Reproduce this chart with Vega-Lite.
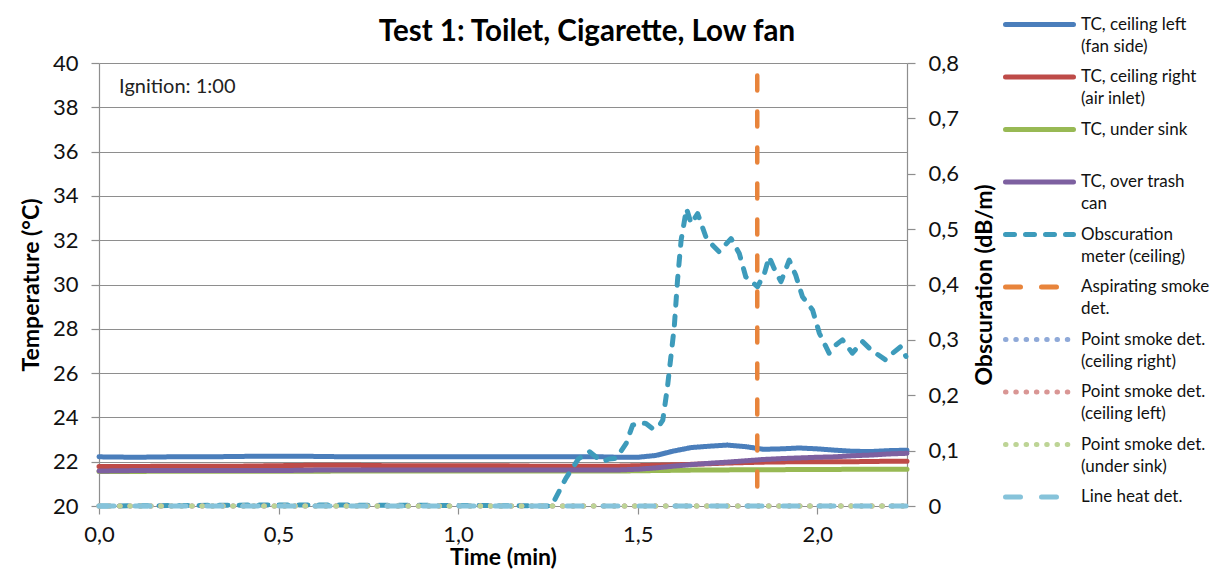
{
  "$schema": "https://vega.github.io/schema/vega-lite/v6.json",
  "width": 808,
  "height": 443,
  "autosize": {"type": "none"},
  "padding": {"left": 99, "top": 63, "right": 309, "bottom": 68},
  "background": "white",
  "title": {"text": "Test 1: Toilet, Cigarette, Low fan", "anchor": "middle", "frame": "group", "dx": 84, "offset": -42, "fontSize": 29.5, "font": "Lato", "fontWeight": "bold", "color": "#000000"},
  "datasets": {
    "temps": [
      {"time": 0.0, "TC, ceiling left (fan side)": 22.22, "TC, ceiling right (air inlet)": 21.78, "TC, under sink": 21.56, "TC, over trash can": 21.58},
      {"time": 0.1, "TC, ceiling left (fan side)": 22.2, "TC, ceiling right (air inlet)": 21.78, "TC, under sink": 21.56, "TC, over trash can": 21.6},
      {"time": 0.2, "TC, ceiling left (fan side)": 22.22, "TC, ceiling right (air inlet)": 21.8, "TC, under sink": 21.57, "TC, over trash can": 21.6},
      {"time": 0.3, "TC, ceiling left (fan side)": 22.22, "TC, ceiling right (air inlet)": 21.8, "TC, under sink": 21.57, "TC, over trash can": 21.6},
      {"time": 0.4, "TC, ceiling left (fan side)": 22.24, "TC, ceiling right (air inlet)": 21.8, "TC, under sink": 21.57, "TC, over trash can": 21.6},
      {"time": 0.5, "TC, ceiling left (fan side)": 22.25, "TC, ceiling right (air inlet)": 21.82, "TC, under sink": 21.57, "TC, over trash can": 21.6},
      {"time": 0.6, "TC, ceiling left (fan side)": 22.24, "TC, ceiling right (air inlet)": 21.84, "TC, under sink": 21.57, "TC, over trash can": 21.62},
      {"time": 0.7, "TC, ceiling left (fan side)": 22.22, "TC, ceiling right (air inlet)": 21.84, "TC, under sink": 21.58, "TC, over trash can": 21.62},
      {"time": 0.8, "TC, ceiling left (fan side)": 22.22, "TC, ceiling right (air inlet)": 21.82, "TC, under sink": 21.58, "TC, over trash can": 21.62},
      {"time": 0.9, "TC, ceiling left (fan side)": 22.22, "TC, ceiling right (air inlet)": 21.82, "TC, under sink": 21.58, "TC, over trash can": 21.62},
      {"time": 1.0, "TC, ceiling left (fan side)": 22.22, "TC, ceiling right (air inlet)": 21.82, "TC, under sink": 21.58, "TC, over trash can": 21.62},
      {"time": 1.1, "TC, ceiling left (fan side)": 22.22, "TC, ceiling right (air inlet)": 21.82, "TC, under sink": 21.58, "TC, over trash can": 21.62},
      {"time": 1.2, "TC, ceiling left (fan side)": 22.22, "TC, ceiling right (air inlet)": 21.8, "TC, under sink": 21.58, "TC, over trash can": 21.62},
      {"time": 1.3, "TC, ceiling left (fan side)": 22.22, "TC, ceiling right (air inlet)": 21.8, "TC, under sink": 21.58, "TC, over trash can": 21.62},
      {"time": 1.4, "TC, ceiling left (fan side)": 22.22, "TC, ceiling right (air inlet)": 21.8, "TC, under sink": 21.58, "TC, over trash can": 21.62},
      {"time": 1.45, "TC, ceiling left (fan side)": 22.2, "TC, ceiling right (air inlet)": 21.8, "TC, under sink": 21.58, "TC, over trash can": 21.63},
      {"time": 1.5, "TC, ceiling left (fan side)": 22.2, "TC, ceiling right (air inlet)": 21.82, "TC, under sink": 21.59, "TC, over trash can": 21.66},
      {"time": 1.55, "TC, ceiling left (fan side)": 22.28, "TC, ceiling right (air inlet)": 21.84, "TC, under sink": 21.6, "TC, over trash can": 21.72},
      {"time": 1.6, "TC, ceiling left (fan side)": 22.48, "TC, ceiling right (air inlet)": 21.86, "TC, under sink": 21.61, "TC, over trash can": 21.8},
      {"time": 1.65, "TC, ceiling left (fan side)": 22.64, "TC, ceiling right (air inlet)": 21.88, "TC, under sink": 21.62, "TC, over trash can": 21.87},
      {"time": 1.7, "TC, ceiling left (fan side)": 22.7, "TC, ceiling right (air inlet)": 21.91, "TC, under sink": 21.63, "TC, over trash can": 21.93},
      {"time": 1.75, "TC, ceiling left (fan side)": 22.75, "TC, ceiling right (air inlet)": 21.94, "TC, under sink": 21.63, "TC, over trash can": 21.98},
      {"time": 1.8, "TC, ceiling left (fan side)": 22.68, "TC, ceiling right (air inlet)": 21.96, "TC, under sink": 21.64, "TC, over trash can": 22.04},
      {"time": 1.85, "TC, ceiling left (fan side)": 22.56, "TC, ceiling right (air inlet)": 21.98, "TC, under sink": 21.64, "TC, over trash can": 22.1},
      {"time": 1.9, "TC, ceiling left (fan side)": 22.58, "TC, ceiling right (air inlet)": 21.99, "TC, under sink": 21.64, "TC, over trash can": 22.14},
      {"time": 1.95, "TC, ceiling left (fan side)": 22.62, "TC, ceiling right (air inlet)": 22.0, "TC, under sink": 21.65, "TC, over trash can": 22.17},
      {"time": 2.0, "TC, ceiling left (fan side)": 22.58, "TC, ceiling right (air inlet)": 22.0, "TC, under sink": 21.65, "TC, over trash can": 22.2},
      {"time": 2.05, "TC, ceiling left (fan side)": 22.52, "TC, ceiling right (air inlet)": 22.0, "TC, under sink": 21.65, "TC, over trash can": 22.22},
      {"time": 2.1, "TC, ceiling left (fan side)": 22.47, "TC, ceiling right (air inlet)": 22.0, "TC, under sink": 21.66, "TC, over trash can": 22.27},
      {"time": 2.15, "TC, ceiling left (fan side)": 22.46, "TC, ceiling right (air inlet)": 22.01, "TC, under sink": 21.66, "TC, over trash can": 22.3},
      {"time": 2.2, "TC, ceiling left (fan side)": 22.5, "TC, ceiling right (air inlet)": 22.02, "TC, under sink": 21.66, "TC, over trash can": 22.35},
      {"time": 2.25, "TC, ceiling left (fan side)": 22.52, "TC, ceiling right (air inlet)": 22.02, "TC, under sink": 21.66, "TC, over trash can": 22.38}
    ],
    "obs": [
      {"series": "Obscuration meter (ceiling)", "time": 0.0, "obs": 0.0},
      {"series": "Obscuration meter (ceiling)", "time": 0.5, "obs": 0.002},
      {"series": "Obscuration meter (ceiling)", "time": 1.0, "obs": 0.001},
      {"series": "Obscuration meter (ceiling)", "time": 1.26, "obs": 0.0},
      {"series": "Obscuration meter (ceiling)", "time": 1.3, "obs": 0.05},
      {"series": "Obscuration meter (ceiling)", "time": 1.335, "obs": 0.085},
      {"series": "Obscuration meter (ceiling)", "time": 1.366, "obs": 0.098},
      {"series": "Obscuration meter (ceiling)", "time": 1.385, "obs": 0.088},
      {"series": "Obscuration meter (ceiling)", "time": 1.403, "obs": 0.08},
      {"series": "Obscuration meter (ceiling)", "time": 1.42, "obs": 0.085},
      {"series": "Obscuration meter (ceiling)", "time": 1.44, "obs": 0.086},
      {"series": "Obscuration meter (ceiling)", "time": 1.468, "obs": 0.113},
      {"series": "Obscuration meter (ceiling)", "time": 1.486, "obs": 0.146},
      {"series": "Obscuration meter (ceiling)", "time": 1.505, "obs": 0.15},
      {"series": "Obscuration meter (ceiling)", "time": 1.523, "obs": 0.149},
      {"series": "Obscuration meter (ceiling)", "time": 1.541, "obs": 0.14},
      {"series": "Obscuration meter (ceiling)", "time": 1.557, "obs": 0.142},
      {"series": "Obscuration meter (ceiling)", "time": 1.57, "obs": 0.155},
      {"series": "Obscuration meter (ceiling)", "time": 1.583, "obs": 0.215},
      {"series": "Obscuration meter (ceiling)", "time": 1.602, "obs": 0.324},
      {"series": "Obscuration meter (ceiling)", "time": 1.611, "obs": 0.408},
      {"series": "Obscuration meter (ceiling)", "time": 1.621, "obs": 0.48},
      {"series": "Obscuration meter (ceiling)", "time": 1.636, "obs": 0.537},
      {"series": "Obscuration meter (ceiling)", "time": 1.649, "obs": 0.51},
      {"series": "Obscuration meter (ceiling)", "time": 1.667, "obs": 0.528},
      {"series": "Obscuration meter (ceiling)", "time": 1.69, "obs": 0.486},
      {"series": "Obscuration meter (ceiling)", "time": 1.71, "obs": 0.47},
      {"series": "Obscuration meter (ceiling)", "time": 1.727, "obs": 0.459},
      {"series": "Obscuration meter (ceiling)", "time": 1.76, "obs": 0.483},
      {"series": "Obscuration meter (ceiling)", "time": 1.783, "obs": 0.456},
      {"series": "Obscuration meter (ceiling)", "time": 1.801, "obs": 0.414},
      {"series": "Obscuration meter (ceiling)", "time": 1.834, "obs": 0.396},
      {"series": "Obscuration meter (ceiling)", "time": 1.853, "obs": 0.42},
      {"series": "Obscuration meter (ceiling)", "time": 1.866, "obs": 0.45},
      {"series": "Obscuration meter (ceiling)", "time": 1.88, "obs": 0.429},
      {"series": "Obscuration meter (ceiling)", "time": 1.899, "obs": 0.405},
      {"series": "Obscuration meter (ceiling)", "time": 1.922, "obs": 0.444},
      {"series": "Obscuration meter (ceiling)", "time": 1.94, "obs": 0.417},
      {"series": "Obscuration meter (ceiling)", "time": 1.959, "obs": 0.378},
      {"series": "Obscuration meter (ceiling)", "time": 1.987, "obs": 0.354},
      {"series": "Obscuration meter (ceiling)", "time": 2.006, "obs": 0.312},
      {"series": "Obscuration meter (ceiling)", "time": 2.033, "obs": 0.276},
      {"series": "Obscuration meter (ceiling)", "time": 2.05, "obs": 0.29},
      {"series": "Obscuration meter (ceiling)", "time": 2.07, "obs": 0.3},
      {"series": "Obscuration meter (ceiling)", "time": 2.098, "obs": 0.276},
      {"series": "Obscuration meter (ceiling)", "time": 2.126, "obs": 0.297},
      {"series": "Obscuration meter (ceiling)", "time": 2.145, "obs": 0.285},
      {"series": "Obscuration meter (ceiling)", "time": 2.163, "obs": 0.276},
      {"series": "Obscuration meter (ceiling)", "time": 2.19, "obs": 0.264},
      {"series": "Obscuration meter (ceiling)", "time": 2.21, "obs": 0.276},
      {"series": "Obscuration meter (ceiling)", "time": 2.233, "obs": 0.288},
      {"series": "Obscuration meter (ceiling)", "time": 2.247, "obs": 0.27},
      {"series": "Point smoke det. (ceiling right)", "time": 0.0, "obs": 0.0},
      {"series": "Point smoke det. (ceiling right)", "time": 2.25, "obs": 0.0},
      {"series": "Point smoke det. (ceiling left)", "time": 0.0, "obs": 0.0},
      {"series": "Point smoke det. (ceiling left)", "time": 2.25, "obs": 0.0},
      {"series": "Point smoke det. (under sink)", "time": 0.0, "obs": 0.0},
      {"series": "Point smoke det. (under sink)", "time": 2.25, "obs": 0.0},
      {"series": "Line heat det.", "time": 0.0, "obs": 0.0},
      {"series": "Line heat det.", "time": 2.25, "obs": 0.0}
    ],
    "asp": [
      {"series": "Aspirating smoke det.", "time": 1.833, "obs": 0.8},
      {"series": "Aspirating smoke det.", "time": 1.833, "obs": 0.0}
    ],
    "note": [
      {"time": 0.056, "temp": 38.92, "note": "Ignition: 1:00"}
    ]
  },
  "encoding": {
    "x": {
      "field": "time", "type": "quantitative",
      "scale": {"domain": [0, 2.25], "nice": false, "zero": false},
      "axis": {"title": "Time (min)", "values": [0, 0.5, 1, 1.5, 2], "labelExpr": "replace(format(datum.value, '.1f'), '.', ',')", "grid": false, "labelFlush": false, "labelPadding": 10, "titlePadding": 1}
    }
  },
  "layer": [
    {
      "layer": [
        {
          "data": {"name": "temps"},
          "transform": [{"fold": ["TC, ceiling left (fan side)", "TC, ceiling right (air inlet)", "TC, under sink", "TC, over trash can"], "as": ["series", "temp"]}],
          "mark": {"type": "line", "strokeWidth": 5, "strokeCap": "round", "strokeJoin": "round"},
          "encoding": {
            "y": {"field": "temp", "type": "quantitative"},
            "color": {"field": "series", "type": "nominal",
              "scale": {"domain": ["TC, ceiling left (fan side)", "TC, ceiling right (air inlet)", "TC, under sink", "TC, over trash can", "Obscuration meter (ceiling)", "Aspirating smoke det.", "Point smoke det. (ceiling right)", "Point smoke det. (ceiling left)", "Point smoke det. (under sink)", "Line heat det."],
                "range": ["#4a7ebb", "#be4b48", "#98b954", "#7d60a0", "#3d9bbb", "#e8843b", "#8fa9d8", "#d99694", "#bdd495", "#86c3da"]},
              "legend": {"labelExpr": "datum.label == 'TC, over trash can' ? ['TC, over trash', 'can'] : datum.label == 'Obscuration meter (ceiling)' ? ['Obscuration', 'meter (ceiling)'] : datum.label == 'Aspirating smoke det.' ? ['Aspirating smoke', 'det.'] : indexof(datum.label, ' (') > 0 ? [slice(datum.label, 0, indexof(datum.label, ' (')), slice(datum.label, indexof(datum.label, ' (') + 1)] : datum.label", "encode": {"symbols": {"update": {"strokeCap": {"value": "round"}}}}}},
            "strokeDash": {"field": "series", "type": "nominal",
              "scale": {"domain": ["TC, ceiling left (fan side)", "TC, ceiling right (air inlet)", "TC, under sink", "TC, over trash can", "Obscuration meter (ceiling)", "Aspirating smoke det.", "Point smoke det. (ceiling right)", "Point smoke det. (ceiling left)", "Point smoke det. (under sink)", "Line heat det."],
                "range": [[1, 0], [1, 0], [1, 0], [1, 0], [9, 11], [15, 21], [0.5, 9.8], [0.5, 9.8], [0.5, 9.8], [15, 21]]},
              "legend": {"labelExpr": "datum.label == 'TC, over trash can' ? ['TC, over trash', 'can'] : datum.label == 'Obscuration meter (ceiling)' ? ['Obscuration', 'meter (ceiling)'] : datum.label == 'Aspirating smoke det.' ? ['Aspirating smoke', 'det.'] : indexof(datum.label, ' (') > 0 ? [slice(datum.label, 0, indexof(datum.label, ' (')), slice(datum.label, indexof(datum.label, ' (') + 1)] : datum.label", "encode": {"symbols": {"update": {"strokeCap": {"value": "round"}}}}}}
          }
        },
        {
          "data": {"name": "note"},
          "mark": {"type": "text", "align": "left", "baseline": "middle", "font": "Lato", "fontSize": 20, "color": "#222222"},
          "encoding": {
            "y": {"field": "temp", "type": "quantitative"},
            "text": {"field": "note", "type": "nominal"}
          }
        }
      ],
      "encoding": {
        "y": {
          "field": "temp", "type": "quantitative",
          "scale": {"domain": [20, 40], "nice": false, "zero": false},
          "axis": {"title": "Temperature (°C)", "orient": "left", "values": [20, 22, 24, 26, 28, 30, 32, 34, 36, 38, 40], "grid": true, "labelPadding": 13, "titlePadding": 9}
        }
      }
    },
    {
      "layer": [
        {
          "data": {"name": "obs"},
          "mark": {"type": "line", "strokeWidth": 5, "strokeCap": "round", "strokeJoin": "round"},
          "encoding": {
            "color": {"field": "series", "type": "nominal",
              "scale": {"domain": ["TC, ceiling left (fan side)", "TC, ceiling right (air inlet)", "TC, under sink", "TC, over trash can", "Obscuration meter (ceiling)", "Aspirating smoke det.", "Point smoke det. (ceiling right)", "Point smoke det. (ceiling left)", "Point smoke det. (under sink)", "Line heat det."],
                "range": ["#4a7ebb", "#be4b48", "#98b954", "#7d60a0", "#3d9bbb", "#e8843b", "#8fa9d8", "#d99694", "#bdd495", "#86c3da"]},
              "legend": {"labelExpr": "datum.label == 'TC, over trash can' ? ['TC, over trash', 'can'] : datum.label == 'Obscuration meter (ceiling)' ? ['Obscuration', 'meter (ceiling)'] : datum.label == 'Aspirating smoke det.' ? ['Aspirating smoke', 'det.'] : indexof(datum.label, ' (') > 0 ? [slice(datum.label, 0, indexof(datum.label, ' (')), slice(datum.label, indexof(datum.label, ' (') + 1)] : datum.label", "encode": {"symbols": {"update": {"strokeCap": {"value": "round"}}}}}},
            "strokeDash": {"field": "series", "type": "nominal",
              "scale": {"domain": ["TC, ceiling left (fan side)", "TC, ceiling right (air inlet)", "TC, under sink", "TC, over trash can", "Obscuration meter (ceiling)", "Aspirating smoke det.", "Point smoke det. (ceiling right)", "Point smoke det. (ceiling left)", "Point smoke det. (under sink)", "Line heat det."],
                "range": [[1, 0], [1, 0], [1, 0], [1, 0], [9, 11], [15, 21], [0.5, 9.8], [0.5, 9.8], [0.5, 9.8], [15, 21]]},
              "legend": {"labelExpr": "datum.label == 'TC, over trash can' ? ['TC, over trash', 'can'] : datum.label == 'Obscuration meter (ceiling)' ? ['Obscuration', 'meter (ceiling)'] : datum.label == 'Aspirating smoke det.' ? ['Aspirating smoke', 'det.'] : indexof(datum.label, ' (') > 0 ? [slice(datum.label, 0, indexof(datum.label, ' (')), slice(datum.label, indexof(datum.label, ' (') + 1)] : datum.label", "encode": {"symbols": {"update": {"strokeCap": {"value": "round"}}}}}}
          }
        },
        {
          "data": {"name": "asp"},
          "mark": {"type": "line", "strokeWidth": 4.5, "strokeCap": "round", "strokeDash": [15, 21], "strokeDashOffset": 23.5},
          "encoding": {
            "color": {"field": "series", "type": "nominal",
              "scale": {"domain": ["TC, ceiling left (fan side)", "TC, ceiling right (air inlet)", "TC, under sink", "TC, over trash can", "Obscuration meter (ceiling)", "Aspirating smoke det.", "Point smoke det. (ceiling right)", "Point smoke det. (ceiling left)", "Point smoke det. (under sink)", "Line heat det."],
                "range": ["#4a7ebb", "#be4b48", "#98b954", "#7d60a0", "#3d9bbb", "#e8843b", "#8fa9d8", "#d99694", "#bdd495", "#86c3da"]},
              "legend": {"labelExpr": "datum.label == 'TC, over trash can' ? ['TC, over trash', 'can'] : datum.label == 'Obscuration meter (ceiling)' ? ['Obscuration', 'meter (ceiling)'] : datum.label == 'Aspirating smoke det.' ? ['Aspirating smoke', 'det.'] : indexof(datum.label, ' (') > 0 ? [slice(datum.label, 0, indexof(datum.label, ' (')), slice(datum.label, indexof(datum.label, ' (') + 1)] : datum.label", "encode": {"symbols": {"update": {"strokeCap": {"value": "round"}}}}}}
          }
        }
      ],
      "encoding": {
        "y": {
          "field": "obs", "type": "quantitative",
          "scale": {"domain": [0, 0.8], "nice": false},
          "axis": {"title": "Obscuration (dB/m)", "orient": "right", "values": [0, 0.1, 0.2, 0.3, 0.4, 0.5, 0.6, 0.7, 0.8], "labelExpr": "datum.value == 0 ? '0' : replace(format(datum.value, '.1f'), '.', ',')", "grid": false, "labelPadding": 13, "titlePadding": 38, "titleAngle": 270}
        }
      }
    }
  ],
  "resolve": {"scale": {"y": "independent"}},
  "config": {
    "view": {"stroke": null},
    "font": "Lato",
    "style": {"guide-label": {"lineHeight": 22}},
    "axis": {
      "labelFont": "Lato", "labelFontSize": 22, "labelColor": "#111111",
      "titleFont": "Lato", "titleFontSize": 23, "titleFontWeight": "bold", "titleColor": "#000000",
      "domainColor": "#8e8e8e", "domainWidth": 1.2, "tickColor": "#8e8e8e", "tickWidth": 1.2, "tickSize": 8,
      "gridColor": "#8e8e8e", "gridWidth": 1.2
    },
    "legend": {
      "orient": "none", "legendX": 921, "legendY": -58, "padding": 0, "title": null,
      "direction": "vertical", "gridAlign": "all", "rowPadding": 2.5,
      "symbolType": "M-2,0H2", "symbolSize": 1156, "symbolStrokeWidth": 5,
      "labelFont": "Lato", "labelFontSize": 17, "labelColor": "#111111", "labelBaseline": "middle", "labelOffset": 22, "labelLimit": 250
    }
  }
}
